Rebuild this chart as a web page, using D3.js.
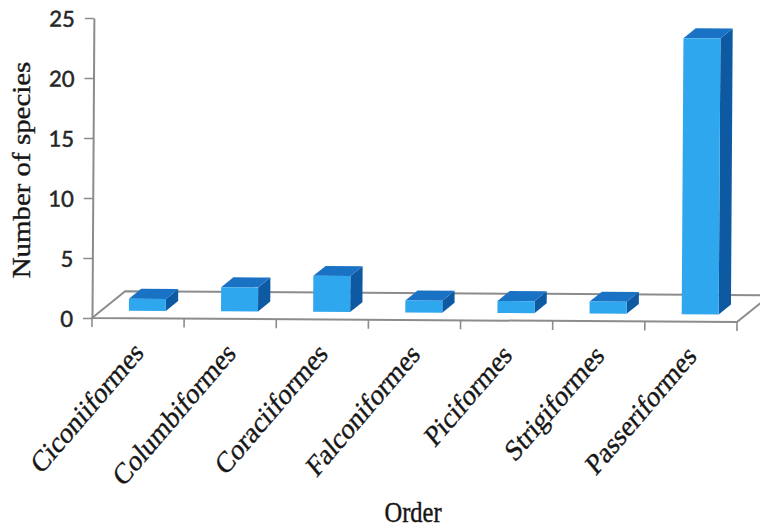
<!DOCTYPE html>
<html>
<head>
<meta charset="utf-8">
<script src="https://cdn.jsdelivr.net/npm/d3@7"></script>
<style>
  html, body { margin: 0; padding: 0; background: #fff; }
  svg { display: block; }
</style>
</head>
<body>
<svg id="chart" width="760" height="531"></svg>
<script>
// Bird orders and the number of species recorded in each
const categories = ["Ciconiiformes", "Columbiformes", "Coraciiformes", "Falconiformes",
                    "Piciformes", "Strigiformes", "Passeriformes"];
const species = [1, 2, 3, 1, 1, 1, 23];
const yTicks = [0, 5, 10, 15, 20, 25];
const yTitle = "Number of species";
const xTitle = "Order";

const svg = d3.select("#chart");

// Front-left corner of the floor and the floor's 3D depth offset
const x0 = 92, x1 = 737;
const depth = { dx: 33, dy: -27 };
const barZ0 = 0.28, barZ1 = 0.65;   // bar depth as a fraction of floor depth
const barW = 37;
const textStretch = 1.18;            // text is drawn slightly tall

const x = d3.scaleBand().domain(categories).range([x0, x1]);
const y = d3.scaleLinear().domain([0, 25]).range([318, 18]);

const serif = "'Liberation Serif', 'Times New Roman', serif";
const ink = "#161616";

// the whole plot sits on a very slight tilt
const plot = svg.append("g").attr("transform", `rotate(0.36, ${x0}, ${y(0)})`);

// floor outline
const floorColor = "#8c8c8c";
const base = y(0);
const floor = plot.append("g").attr("stroke", floorColor).attr("stroke-width", 2).attr("fill", "none");
const floorPts = [
  [x0, base], [x1, base],
  [x1 + depth.dx, base + depth.dy], [x0 + depth.dx, base + depth.dy]
];
floor.append("path").attr("d", d3.line()(floorPts) + "Z");

// category ticks under the front edge
const boundaries = categories.map(c => x(c)).concat([x1]);
plot.append("g").selectAll("line").data(boundaries).join("line")
  .attr("x1", d => d).attr("x2", d => d)
  .attr("y1", base).attr("y2", base + 9)
  .attr("stroke", floorColor).attr("stroke-width", 1.6);

// value axis
const yAxis = plot.append("g")
  .attr("transform", `translate(${x0},0)`)
  .call(d3.axisLeft(y).tickValues(yTicks).tickSize(9).tickSizeOuter(0).tickPadding(10));
yAxis.select(".domain").attr("stroke", floorColor).attr("stroke-width", 2);
yAxis.selectAll(".tick line").attr("stroke", floorColor).attr("stroke-width", 1.6);
yAxis.selectAll(".tick text")
  .attr("font-family", "Lato, 'Open Sans', sans-serif")
  .attr("font-size", 22)
  .attr("fill", "#262626")
  .attr("stroke", "#262626")
  .attr("stroke-width", 0.5)
  .attr("dy", "0.38em");

// 3D columns
const colors = { front: "#2fa7ee", top: "#1a72c4", side: "#0d5aa3" };
const bars = plot.append("g").selectAll("g").data(categories.map((c, i) => ({ c, v: species[i] }))).join("g");

function pt(px, py, z) { return [px + z * depth.dx, py + z * depth.dy]; }

bars.each(function (d) {
  const g = d3.select(this);
  const cx = x(d.c) + x.bandwidth() / 2;
  const l = cx - barW / 2, r = cx + barW / 2;
  const top = y(d.v), bot = y(0);
  const line = d3.line();
  // right side face
  g.append("path").attr("fill", colors.side).attr("d", line([
    pt(r, top, barZ0), pt(r, top, barZ1), pt(r, bot, barZ1), pt(r, bot, barZ0)
  ]) + "Z");
  // top face
  g.append("path").attr("fill", colors.top).attr("d", line([
    pt(l, top, barZ0), pt(r, top, barZ0), pt(r, top, barZ1), pt(l, top, barZ1)
  ]) + "Z");
  // front face
  g.append("path").attr("fill", colors.front).attr("d", line([
    pt(l, top, barZ0), pt(r, top, barZ0), pt(r, bot, barZ0), pt(l, bot, barZ0)
  ]) + "Z");
});

// rotated category labels
plot.append("g").selectAll("text").data(categories).join("text")
  .attr("transform", c => `translate(${x(c) + x.bandwidth() / 2 + 7},${base + 36}) scale(1,${textStretch}) rotate(-45)`)
  .attr("text-anchor", "end")
  .attr("font-family", serif)
  .attr("font-size", 25.5)
  .attr("fill", ink)
  .attr("stroke", ink)
  .attr("stroke-width", 0.35)
  .text(c => c);

// axis titles
svg.append("text")
  .attr("transform", `translate(30,170) scale(1,${textStretch}) rotate(-90)`)
  .attr("text-anchor", "middle")
  .attr("font-family", serif)
  .attr("font-size", 24.5)
  .attr("fill", ink)
  .attr("stroke", ink)
  .attr("stroke-width", 0.35)
  .text(yTitle);

svg.append("text")
  .attr("transform", `translate(413,522) scale(1,${textStretch})`)
  .attr("text-anchor", "middle")
  .attr("font-family", serif)
  .attr("font-size", 24.5)
  .attr("fill", ink)
  .attr("stroke", ink)
  .attr("stroke-width", 0.35)
  .text(xTitle);
</script>
</body>
</html>
